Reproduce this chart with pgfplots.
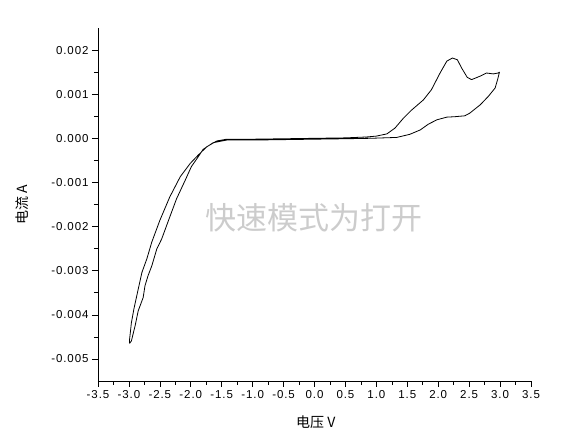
\documentclass[border=0pt]{standalone}
\usepackage{fontspec}
\setmainfont{Liberation Sans}
\newfontfamily\cjk{Noto Sans CJK SC}
\newfontfamily\tickfont[LetterSpace=8]{Liberation Sans}
\usepackage{pgfplots}
\pgfplotsset{compat=1.18}
\begin{document}
\begin{tikzpicture}
\path[use as bounding box] (-98pt,-57pt) rectangle (476pt,381pt);
\begin{axis}[
  at={(0,0)}, anchor=south west,
  scale only axis, width=433pt, height=353pt,
  axis lines=left, axis line style={-, line width=0.7pt},
  xmin=-3.5, xmax=3.5, ymin=-0.0055, ymax=0.0025,
  xtick={-3.5,-3,...,3.5},
  ytick={-0.005,-0.004,-0.003,-0.002,-0.001,0,0.001,0.002},
  minor x tick num=1, minor y tick num=1,
  tick align=outside,
  major tick length=6pt, minor tick length=4pt,
  tick style={black, line width=0.6pt},
  scaled y ticks=false,
  xticklabel style={/pgf/number format/.cd, fixed, fixed zerofill, precision=1, assume math mode=true},
  yticklabel style={/pgf/number format/.cd, fixed, fixed zerofill, precision=3, assume math mode=true},
  ticklabel style={font=\tickfont\fontsize{11.5}{13}\selectfont},
  xlabel={\cjk 电压 V}, ylabel={\cjk 电流 A},
  label style={font=\fontsize{14}{16}\selectfont},
  xlabel style={at={(axis description cs:0.503,-0.116)}, anchor=center},
  ylabel style={at={(axis description cs:-0.176,0.5)}, anchor=center},
  clip=false,
]
\node[text=black!20, font=\cjk\fontsize{31}{33}\selectfont] at (axis cs:0,-0.0018) {快速模式为打开};
\addplot[black, line width=0.8pt, line join=round] coordinates {
(-2.99,-0.00465) (-2.99,-0.00456) (-2.96,-0.00418) (-2.92,-0.00387) (-2.85,-0.00342)
(-2.79,-0.00304) (-2.71,-0.00273) (-2.63,-0.00235) (-2.50,-0.00186) (-2.34,-0.00133)
(-2.17,-0.00087) (-2.01,-0.00057) (-1.88,-0.00038) (-1.74,-0.00019) (-1.58,-0.00006)
(-1.42,-0.00002) (-1.0,-0.00002) (-0.5,-0.00001) (0.0,0.0) (0.5,0.00001)
(0.84,0.00003) (1.00,0.00005) (1.17,0.00010) (1.30,0.00023) (1.44,0.00046)
(1.57,0.00064) (1.76,0.00087) (1.89,0.00110) (2.03,0.00148) (2.14,0.00175)
(2.23,0.00182) (2.31,0.00178) (2.38,0.00159) (2.47,0.00138) (2.54,0.00133)
(2.68,0.00141) (2.78,0.00148) (2.89,0.00146) (2.97,0.00148) (2.99,0.00150)
(2.96,0.00133) (2.92,0.00114) (2.81,0.00095) (2.68,0.00076) (2.51,0.00057)
(2.43,0.00051) (2.27,0.00049) (2.14,0.00048) (1.98,0.00042) (1.84,0.00032)
(1.71,0.00019) (1.54,0.00009) (1.33,0.00002) (0.90,0.0) (0.5,-0.00001)
(0.0,-0.00002) (-0.5,-0.00003) (-1.0,-0.00004) (-1.42,-0.00004) (-1.64,-0.00010)
(-1.80,-0.00025) (-1.90,-0.00046) (-1.99,-0.00064) (-2.09,-0.00095) (-2.23,-0.00137)
(-2.36,-0.00186) (-2.47,-0.00228) (-2.55,-0.00251) (-2.63,-0.00289) (-2.69,-0.00311)
(-2.74,-0.00334) (-2.77,-0.00361) (-2.85,-0.00391) (-2.90,-0.00425) (-2.96,-0.00459)
(-2.99,-0.00465)
};
\end{axis}
\end{tikzpicture}
\end{document}
